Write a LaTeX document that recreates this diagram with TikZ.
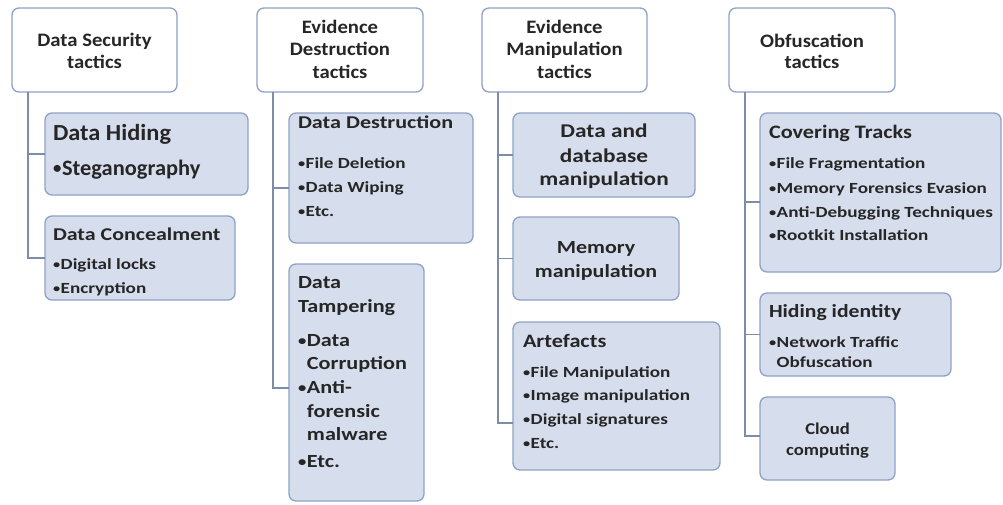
\documentclass[tikz,border=0pt]{standalone}
\usepackage{fontspec}
\usepackage{graphicx}
\setmainfont{Carlito}
\definecolor{txt}{HTML}{262626}
\definecolor{bord}{HTML}{8DA2C6}
\definecolor{fillb}{HTML}{D6DEED}
\definecolor{conn}{HTML}{7D8DA8}
% #1 size, #2 horizontal stretch, #3 text
\newcommand\Ll[3]{\hbox{\smash{\scalebox{#2}[1]{\fontsize{#1}{#1}\selectfont #3}}}}
\newcommand\Lc[3]{\hbox to 0pt{\hss\smash{\scalebox{#2}[1]{\fontsize{#1}{#1}\selectfont #3}}\hss}}
\newcommand\G[1]{\vskip #1pt}
\newcommand\Stk[1]{\vtop{\offinterlineskip #1}}
\newcommand\bul{\raisebox{0.05em}{\scalebox{0.75}{•}}\kern0.03em}
\newcommand\ind{\phantom{\bul}}
\newcommand\bs{1.235}
\tikzset{
  hdr/.style={draw=bord, line width=1.3pt, fill=white, rounded corners=7pt, anchor=north west, inner sep=0pt, outer sep=0pt},
  subbox/.style={draw=bord, line width=1.3pt, fill=fillb, rounded corners=7pt, anchor=north west, inner sep=0pt, outer sep=0pt},
  tx/.style={inner sep=0pt, outer sep=0pt, text=txt, font=\bfseries},
  conline/.style={draw=conn, line width=1.5pt}
}
\begin{document}
\begin{tikzpicture}[x=1pt,y=-1pt]
\useasboundingbox (0,0) rectangle (1003,504);
% headers
\node[hdr, minimum width=165pt, minimum height=84pt] (h1) at (12,8) {};
\node[hdr, minimum width=166pt, minimum height=84pt] (h2) at (257,8) {};
\node[hdr, minimum width=165pt, minimum height=84pt] (h3) at (482,8) {};
\node[hdr, minimum width=166pt, minimum height=84pt] (h4) at (729,8) {};
% sub boxes
\node[subbox, minimum width=203pt, minimum height=82pt] (dh) at (45,113) {};
\node[subbox, minimum width=190pt, minimum height=84pt] (dc) at (45,216) {};
\node[subbox, minimum width=184pt, minimum height=130pt] (dd) at (289,113) {};
\node[subbox, minimum width=135pt, minimum height=237pt] (dt) at (289,264) {};
\node[subbox, minimum width=182pt, minimum height=84pt] (db) at (513,113) {};
\node[subbox, minimum width=166pt, minimum height=83pt] (mm) at (513,217) {};
\node[subbox, minimum width=207pt, minimum height=148pt] (ar) at (513,322) {};
\node[subbox, minimum width=241pt, minimum height=159pt] (ct) at (760,113) {};
\node[subbox, minimum width=191pt, minimum height=83pt] (hi) at (760,293) {};
\node[subbox, minimum width=135pt, minimum height=83pt] (cc) at (760,397) {};
% connectors
\draw[conline] ([xshift=16pt]h1.south west) |- (dh.west);
\draw[conline] ([xshift=16pt]h1.south west) |- (dc.west);
\draw[conline] ([xshift=16pt]h2.south west) |- ([yshift=-10pt]dd.west);
\draw[conline] ([xshift=16pt]h2.south west) |- ([yshift=-5.5pt]dt.west);
\draw[conline] ([xshift=16pt]h3.south west) |- (db.west);
\draw[conline] ([xshift=16pt]h3.south west) |- (mm.west);
\draw[conline] ([xshift=16pt]h3.south west) |- ([yshift=-27pt]ar.west);
\draw[conline] ([xshift=16pt]h4.south west) |- ([yshift=-9.5pt]ct.west);
\draw[conline] ([xshift=16pt]h4.south west) |- (hi.west);
\draw[conline] ([xshift=16pt]h4.south west) |- ([yshift=2.5pt]cc.west);
% header texts
\node[tx, anchor=base] (h1t) at (94.5,46.5) {\Stk{\Lc{19}{1.09}{Data Security}\G{21.5}\Lc{19}{1.09}{tactics}}};
\node[tx, anchor=base] (h2t) at (340,33) {\Stk{\Lc{19}{1.09}{Evidence}\G{22.5}\Lc{19}{1.09}{Destruction}\G{22.5}\Lc{19}{1.09}{tactics}}};
\node[tx, anchor=base] (h3t) at (564.5,33) {\Stk{\Lc{19}{1.09}{Evidence}\G{22.5}\Lc{19}{1.09}{Manipulation}\G{22.5}\Lc{19}{1.09}{tactics}}};
\node[tx, anchor=base] (h4t) at (812,47) {\Stk{\Lc{19}{1.09}{Obfuscation}\G{21.5}\Lc{19}{1.09}{tactics}}};
% box texts
\node[tx, anchor=base west] (dht) at (53,140) {\Stk{\Ll{23}{1.06}{Data Hiding}\G{35}\Ll{22}{1.02}{\bul Steganography}}};
\node[tx, anchor=base west] (dct) at (53,240) {\Stk{\Ll{18}{1.22}{Data Concealment}\G{29}\Ll{15.5}{\bs}{\bul Digital locks}\G{24}\Ll{15.5}{\bs}{\bul Encryption}}};
\node[tx, anchor=base west] (ddt) at (298,128) {\Stk{\Ll{18}{1.23}{Data Destruction}\G{40}\Ll{15.5}{\bs}{\bul File Deletion}\G{24.5}\Ll{15.5}{\bs}{\bul Data Wiping}\G{23.5}\Ll{15.5}{\bs}{\bul Etc.}}};
\node[tx, anchor=base west] (dtt) at (298,288) {\Stk{\Ll{18.5}{1.2}{Data}\G{24}\Ll{18.5}{1.2}{Tampering}\G{34}\Ll{18.5}{1.2}{\bul Data}\G{23}\Ll{18.5}{1.2}{\ind Corruption}\G{24}\Ll{18.5}{1.2}{\bul Anti-}\G{24}\Ll{18.5}{1.2}{\ind forensic}\G{23}\Ll{18.5}{1.2}{\ind malware}\G{27}\Ll{18.5}{1.2}{\bul Etc.}}};
\node[tx, anchor=base] (dbt) at (604,137) {\Stk{\Lc{19.5}{1.195}{Data and}\G{25}\Lc{19.5}{1.195}{database}\G{23}\Lc{19.5}{1.195}{manipulation}}};
\node[tx, anchor=base] (mmt) at (596,253) {\Stk{\Lc{18.5}{1.19}{Memory}\G{24}\Lc{18.5}{1.19}{manipulation}}};
\node[tx, anchor=base west] (art) at (523,347) {\Stk{\Ll{19}{1.17}{Artefacts}\G{30}\Ll{15.5}{\bs}{\bul File Manipulation}\G{23.5}\Ll{15.5}{\bs}{\bul Image manipulation}\G{24}\Ll{15.5}{\bs}{\bul Digital signatures}\G{24}\Ll{15.5}{\bs}{\bul Etc.}}};
\node[tx, anchor=base west] (ctt) at (769,138) {\Stk{\Ll{19}{1.17}{Covering Tracks}\G{30}\Ll{15.5}{\bs}{\bul File Fragmentation}\G{25}\Ll{15.5}{\bs}{\bul Memory Forensics Evasion}\G{24}\Ll{15.5}{\bs}{\bul Anti-Debugging Techniques}\G{23}\Ll{15.5}{\bs}{\bul Rootkit Installation}}};
\node[tx, anchor=base west] (hit) at (769,317) {\Stk{\Ll{18.5}{1.17}{Hiding identity}\G{30}\Ll{15.5}{\bs}{\bul Network Traffic}\G{20}\Ll{15.5}{\bs}{\ind Obfuscation}}};
\node[tx, anchor=base] (cct) at (827.5,434) {\Stk{\Lc{16.5}{1.13}{Cloud}\G{21}\Lc{16.5}{1.13}{computing}}};
\end{tikzpicture}
\end{document}
